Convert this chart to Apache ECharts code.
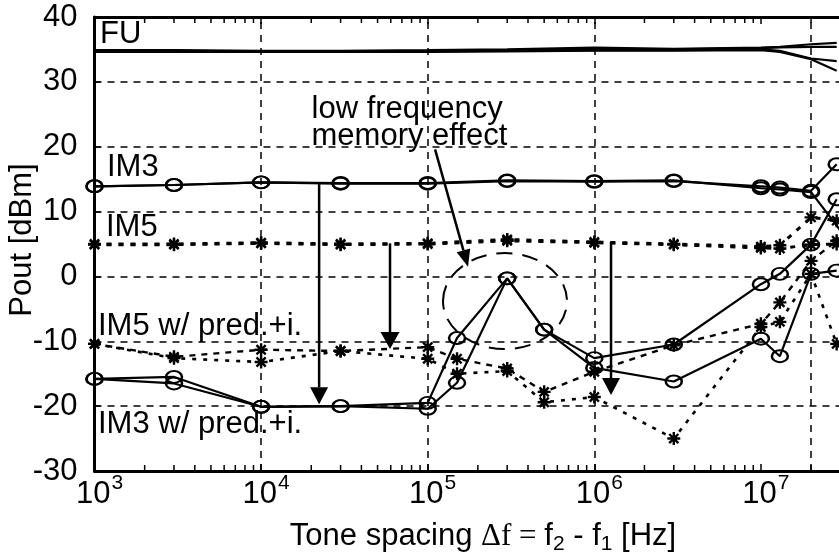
<!DOCTYPE html>
<html><head><meta charset="utf-8">
<script src="https://cdn.jsdelivr.net/npm/echarts@6/dist/echarts.min.js"></script>
<style>html,body{margin:0;padding:0;background:#fff}#c{width:839px;height:560px}</style>
</head><body><div id="c"></div>
<script>
const FONT = 'Liberation Sans, Arial, Helvetica, sans-serif';
const SERIF = 'Liberation Serif, Times New Roman, serif';

// ---- axis ticks ----
const xMin = 1e3, xMax = 1e8;
const yMin = -30, yMax = 40, yStep = 10;
const xGridLines = [1e4, 1e5, 1e6, 2e7];
const minorDecades = [1e3, 1e4, 1e5, 1e6, 1e7];
const minorMultipliers = [2, 3, 4, 5, 6, 7, 8, 9];

// ---- x positions (tone spacing, Hz) ----
const xs12 = [1e3, 3e3, 1e4, 3e4, 1e5, 3e5, 1e6, 3e6, 1e7, 1.3e7, 2e7, 2.85e7];
const xs14 = [1e3, 3e3, 1e4, 3e4, 1e5, 1.5e5, 3e5, 5e5, 1e6, 3e6, 1e7, 1.3e7, 2e7, 2.85e7];
const xsIM3Upper = [1e3, 3e3, 1e4, 3e4, 1e5, 3e5, 1e6, 3e6, 1e7, 1.3e7, 2e7, 4e7];

// ---- FU (fundamental), dBm ----
const fuA = [34.9, 34.9, 34.8, 34.8, 34.9, 35.0, 35.3, 35.1, 35.3, 35.4, 35.8, 36.0];
const fuB = [34.8, 34.8, 34.7, 34.7, 34.8, 34.9, 35.1, 35.0, 35.2, 35.3, 35.4, 35.4];
const fuC = [34.7, 34.7, 34.6, 34.6, 34.7, 34.8, 34.9, 34.9, 35.0, 34.8, 33.6, 33.2];
const fuD = [34.6, 34.6, 34.6, 34.6, 34.6, 34.7, 34.8, 34.8, 34.9, 34.6, 33.5, 31.7];

// ---- IM3 ----
const im3Lower = [13.9, 14.1, 14.5, 14.3, 14.3, 14.7, 14.6, 14.7, 13.9, 13.7, 13.2, 17.3];
const im3Upper = [13.9, 14.1, 14.5, 14.4, 14.4, 14.8, 14.7, 14.8, 13.6, 13.4, 13.0, 2.9];

// ---- IM5 ----
const im5Lower = [5.0, 5.0, 5.2, 5.0, 5.1, 5.7, 5.3, 5.0, 4.6, 4.8, 9.1, 8.6];
const im5Upper = [4.9, 4.9, 5.1, 4.9, 5.0, 5.5, 5.2, 4.9, 4.4, 4.3, 4.9, 5.0];

// ---- IM3 w/ pred.+i. ----
const im3PredA = [-15.8, -15.5, -20.1, -20.0, -19.5, -9.5, -0.3, -8.2, -12.6, -10.5, -1.2, 0.4, 4.9, 11.9];
const im3PredB = [-15.8, -16.5, -20.1, -20.0, -20.4, -16.4, -0.3, -8.2, -14.1, -16.2, -9.6, -12.3, 0.4, 0.9];

// ---- IM5 w/ pred.+i. ----
const im5PredA = [-10.4, -12.4, -11.3, -11.5, -10.9, -12.7, -14.2, -17.8, -14.7, -10.6, -7.3, -4.0, 2.4, 5.5];
const im5PredB = [-10.4, -12.6, -13.2, -11.5, -12.7, -15.0, -14.6, -19.4, -18.6, -25.0, -7.8, -7.0, 0.4, -10.4];

// ---- annotation anchors (data coords) ----
const arrowDefs = [
  { from: [2.23e4, 14.3], to: [2.23e4, -19.7], len: 17, half: 9 },
  { from: [5.94e4, 5.1], to: [5.94e4, -11.2], len: 17, half: 9.5 },
  { from: [1.26e6, 5.3], to: [1.26e6, -18.3], len: 17, half: 9 },
  { from: [1.107e5, 19.6], to: [1.746e5, 1.5], len: 17, half: 7 }
];
const ellipseCenter = [2.91e5, -3.8];

const pairs = (xs, ys) => xs.map((x, i) => [x, ys[i]]);
const ASTER = 'path://M6,0L6,12M0,6L12,6M1.76,1.76L10.24,10.24M1.76,10.24L10.24,1.76';

function fuSeries(name, ys) {
  return { name, type: 'line', data: pairs(xs12, ys), symbol: 'none', clip: false,
    lineStyle: { color: '#000', width: 2.2 }, z: 3, silent: true };
}
function circSeries(name, xs, ys) {
  return { name, type: 'line', data: pairs(xs, ys), symbol: 'circle', symbolSize: [16, 12],
    showAllSymbol: true, clip: false, silent: true, z: 4,
    lineStyle: { color: '#000', width: 2.2 },
    itemStyle: { color: 'rgba(0,0,0,0)', borderColor: '#000', borderWidth: 2.2 } };
}
function astSeries(name, xs, ys, dash, width) {
  return { name, type: 'line', data: pairs(xs, ys), symbol: ASTER, symbolSize: 13,
    showAllSymbol: true, clip: false, silent: true, z: 4,
    lineStyle: { color: '#000', width: width, type: dash },
    itemStyle: { color: 'rgba(0,0,0,0)', borderColor: '#000', borderWidth: 2.4 } };
}

const minorTicks = [];
minorDecades.forEach(d => minorMultipliers.forEach(m => minorTicks.push([d * m, 0])));

const chart = echarts.init(document.getElementById('c'), null, { renderer: 'canvas' });
const axisLineStyle = { color: '#000', width: 3 };
const option = {
  animation: false,
  backgroundColor: '#fff',
  grid: { left: 94.5, top: 17, width: 833, height: 454, containLabel: false, outerBoundsMode: 'none' },
  xAxis: [
    { type: 'log', logBase: 10, min: xMin, max: xMax, position: 'bottom',
      axisLine: { show: true, onZero: false, lineStyle: axisLineStyle },
      axisTick: { show: true, inside: true, length: 7, lineStyle: { color: '#000', width: 1.5 } },
      splitLine: { show: false },
      axisLabel: { show: true, margin: 8, color: '#000', padding: [0, 0, 0, 10],
        formatter: v => '{b|10}{s|' + Math.round(Math.log10(v)) + '}',
        rich: {
          b: { fontSize: 31, fontFamily: FONT, color: '#000', lineHeight: 31, verticalAlign: 'bottom' },
          s: { fontSize: 21, fontFamily: FONT, color: '#000', lineHeight: 21, verticalAlign: 'bottom', padding: [0, 0, 16, 1] }
        } } },
    { type: 'log', logBase: 10, min: xMin, max: xMax, position: 'top',
      axisLine: { show: true, onZero: false, lineStyle: axisLineStyle },
      axisTick: { show: true, inside: true, length: 7, lineStyle: { color: '#000', width: 1.5 } },
      splitLine: { show: false }, axisLabel: { show: false } }
  ],
  yAxis: [
    { type: 'value', min: yMin, max: yMax, interval: yStep,
      axisLine: { show: true, onZero: false, lineStyle: axisLineStyle },
      axisTick: { show: true, inside: true, length: 6, lineStyle: { color: '#000', width: 1.5 } },
      splitLine: { show: true, lineStyle: { color: '#000', width: 1.5, type: [7, 6] } },
      axisLabel: { show: true, margin: 17, color: '#000', fontSize: 31, fontFamily: FONT } }
  ],
  series: [
    { type: 'custom', silent: true, clip: false, z: 2, data: minorTicks,
      renderItem: (params, api) => {
        const x = api.value(0);
        const t = api.coord([x, yMax]);
        const b = api.coord([x, yMin]);
        return { type: 'group', children: [
          { type: 'line', shape: { x1: t[0], y1: t[1], x2: t[0], y2: t[1] + 6 }, style: { stroke: '#000', lineWidth: 1.5 } },
          { type: 'line', shape: { x1: b[0], y1: b[1], x2: b[0], y2: b[1] - 6 }, style: { stroke: '#000', lineWidth: 1.5 } }
        ] };
      },
      markLine: { silent: true, symbol: ['none', 'none'], label: { show: false },
        lineStyle: { color: '#000', width: 1.5, type: [7, 6] },
        data: xGridLines.map(v => ({ xAxis: v })) } },
    fuSeries('FU a', fuA), fuSeries('FU b', fuB), fuSeries('FU c', fuC), fuSeries('FU d', fuD),
    circSeries('IM3 lower', xs12, im3Lower), circSeries('IM3 upper', xsIM3Upper, im3Upper),
    astSeries('IM5 lower', xs12, im5Lower, [5, 7], 3), astSeries('IM5 upper', xs12, im5Upper, [5, 7], 3),
    circSeries('IM3 pred A', xs14, im3PredA), circSeries('IM3 pred B', xs14, im3PredB),
    astSeries('IM5 pred A', xs14, im5PredA, [6, 6], 2.4), astSeries('IM5 pred B', xs14, im5PredB, [4, 7], 2.6)
  ]
};
chart.setOption(option);

function txt(text, x, y, extra) {
  return Object.assign({ type: 'text', z: 100, silent: true, x: x, y: y,
    style: { text: text, fontSize: 31, fontFamily: FONT, fill: '#000',
      align: 'left', verticalAlign: 'middle', textAlign: 'left', textVerticalAlign: 'middle' } }, extra || {});
}
const els = [];
els.push(txt('FU', 100, 34));
els.push(txt('IM3', 107, 167.5));
els.push(txt('IM5', 106, 227.5));
els.push(txt('IM5 w/ pred.+i.', 98, 326.5));
els.push(txt('IM3 w/ pred.+i.', 98, 424));
els.push(txt('low frequency', 311.5, 109));
els.push(txt('memory effect', 311.5, 136));
// y-axis title
els.push({ type: 'text', z: 100, silent: true, x: 22, y: 240, rotation: Math.PI / 2,
  style: { text: 'Pout [dBm]', fontSize: 31, fontFamily: FONT, fill: '#000',
    align: 'center', verticalAlign: 'middle', textAlign: 'center', textVerticalAlign: 'middle' } });
// x-axis title
els.push({ type: 'text', z: 100, silent: true, x: 483, y: 521,
  style: { text: '{n|Tone spacing }{g|\u0394f = }{n|f}{s|2}{n| - f}{s|1}{n| [Hz]}',
    align: 'center', verticalAlign: 'top', textAlign: 'center', textVerticalAlign: 'top',
    rich: {
      n: { fontSize: 31, fontFamily: FONT, fill: '#000', color: '#000', lineHeight: 31, verticalAlign: 'top' },
      g: { fontSize: 31, fontFamily: SERIF, fill: '#000', color: '#000', lineHeight: 31, verticalAlign: 'top' },
      s: { fontSize: 21, fontFamily: FONT, fill: '#000', color: '#000', lineHeight: 21, verticalAlign: 'top', padding: [13, 0, 0, 0] }
    } } });

const toPx = p => chart.convertToPixel({ xAxisIndex: 0, yAxisIndex: 0 }, p);
arrowDefs.forEach(a => {
  const p0 = toPx(a.from), p1 = toPx(a.to);
  const dx = p1[0] - p0[0], dy = p1[1] - p0[1];
  const L = Math.hypot(dx, dy), ux = dx / L, uy = dy / L;
  const bx = p1[0] - ux * a.len, by = p1[1] - uy * a.len;
  const nx = -uy, ny = ux;
  els.push({ type: 'line', z: 90, silent: true, shape: { x1: p0[0], y1: p0[1], x2: bx, y2: by },
    style: { stroke: '#000', lineWidth: 2.5 } });
  els.push({ type: 'polygon', z: 90, silent: true,
    shape: { points: [[p1[0], p1[1]], [bx + nx * a.half, by + ny * a.half], [bx - nx * a.half, by - ny * a.half]] },
    style: { fill: '#000' } });
});
const ec = toPx(ellipseCenter);
els.push({ type: 'ellipse', z: 90, silent: true, shape: { cx: ec[0], cy: ec[1], rx: 62, ry: 48 },
  style: { fill: 'none', stroke: '#000', lineWidth: 2, lineDash: [16, 10] } });

chart.setOption({ graphic: els });
</script>
</body></html>
